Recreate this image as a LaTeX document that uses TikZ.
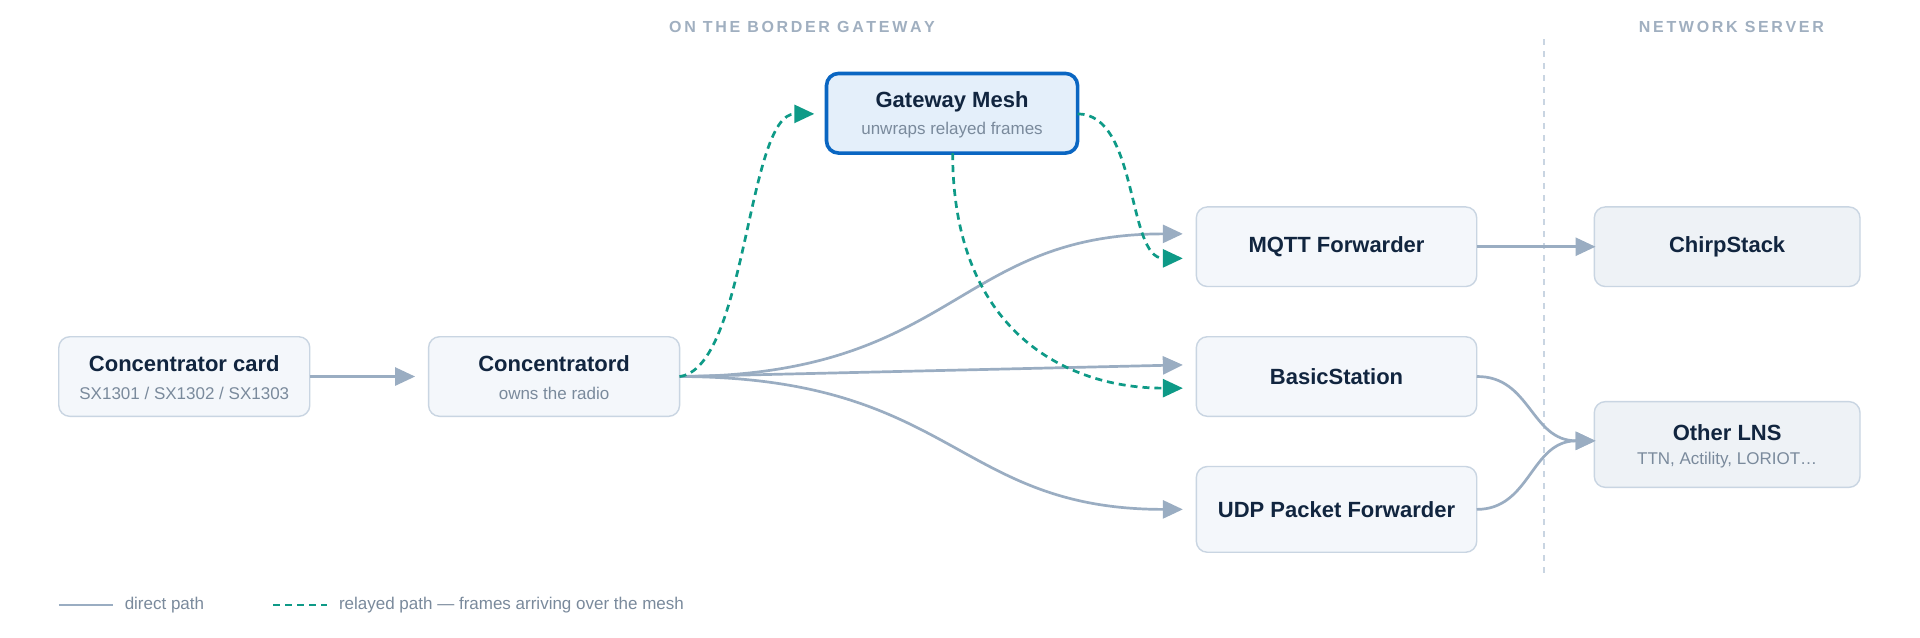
\documentclass[tikz,border=0pt]{standalone}
\usepackage{fontspec}
\setmainfont{Liberation Sans}
\usetikzlibrary{arrows.meta}
\definecolor{edge}{HTML}{9AADC2}
\definecolor{teal}{HTML}{0E9A87}
\definecolor{title}{HTML}{11253F}
\definecolor{sub}{HTML}{7A8A9C}
\definecolor{bord}{HTML}{C9D5E2}
\definecolor{boxf}{HTML}{F4F7FB}
\definecolor{lnsf}{HTML}{EEF2F6}
\definecolor{meshb}{HTML}{0A66C2}
\definecolor{meshf}{HTML}{E4EFFA}
\definecolor{hdr}{HTML}{A0AFC0}
\begin{document}
\begin{tikzpicture}[x=1.2245pt,y=-1.2245pt,
 box/.style={draw=bord,line width=1.4pt,fill=boxf,rounded corners=11pt,inner sep=0pt},
 ttl/.style={font=\fontsize{22}{26}\selectfont\bfseries,text=title},
 sbt/.style={font=\fontsize{17}{20}\selectfont,text=sub},
 dir/.style={draw=edge,line width=2.7pt,-{Triangle[length=20pt,width=18pt]}},
 rel/.style={draw=teal,line width=2.7pt,dash pattern=on 7pt off 5pt,-{Triangle[length=20pt,width=18pt]}},
 hd/.style={font=\fontsize{16}{19}\selectfont\bfseries,text=hdr}]
\useasboundingbox (0,0) rectangle (1568,521);
\fill[white] (0,0) rectangle (1568,521);
\node[hd] at (655,22) {O\,N\, T\,H\,E\, B\,O\,R\,D\,E\,R\, G\,A\,T\,E\,W\,A\,Y};
\node[hd] at (1414,22) {N\,E\,T\,W\,O\,R\,K\, S\,E\,R\,V\,E\,R};
\draw[bord,line width=1.8pt,dash pattern=on 6pt off 6pt] (1261,32) -- (1261,470);
% boxes
\draw[box] (48,275) rectangle (253,340); \node (card) at (150.5,307.5) {};
\node[ttl] at (150.5,297) {Concentrator card}; \node[sbt] at (150.5,321) {SX1301 / SX1302 / SX1303};
\draw[box] (350,275) rectangle (555,340); \node (cd) at (452.5,307.5) {};
\node[ttl] at (452.5,297) {Concentratord}; \node[sbt] at (452.5,321) {owns the radio};
\draw[draw=meshb,line width=3.6pt,fill=meshf,rounded corners=12pt] (675,60) rectangle (880,125); \node (mesh) at (777.5,92.5) {};
\node[ttl] at (777.5,83) {Gateway Mesh}; \node[sbt] at (777.5,106) {unwraps relayed frames};
\draw[box] (977,169) rectangle (1206,234); \node[ttl] (mqtt) at (1091.5,201.5) {MQTT Forwarder};
\draw[box] (977,275) rectangle (1206,340); \node[ttl] (bs) at (1091.5,307.5) {BasicStation};
\draw[box] (977,381) rectangle (1206,451); \node[ttl] (udp) at (1091.5,416) {UDP Packet Forwarder};
\draw[box,fill=lnsf] (1302,169) rectangle (1519,234); \node[ttl] (cs) at (1410.5,201.5) {ChirpStack};
\draw[box,fill=lnsf] (1302,328) rectangle (1519,398); \node (lns) at (1410.5,363) {};
\node[ttl] at (1410.5,353) {Other LNS}; \node[sbt] at (1410.5,376) {TTN, Actility, LORIOT…};
\coordinate (cdR) at (555,307.5);
% direct
\draw[dir] (253,307.5) -- (339,307.5);
\draw[dir] (cdR) .. controls (780,307) and (780,191) .. (966,191);
\draw[dir] (cdR) -- (966,298);
\draw[dir] (cdR) .. controls (780,308) and (780,416) .. (966,416);
\draw[dir] (1206,201.5) -- (1303,201.5);
\draw[dir] (1206,307.5) .. controls (1250,307) and (1250,360) .. (1303,360);
\draw[dir] (1206,416) .. controls (1250,416) and (1250,360) .. (1303,360);
% relayed
\draw[rel] (cdR) .. controls (610,300) and (610,93) .. (665,93);
\draw[rel] (778,125) .. controls (778,270) and (870,317) .. (966,317);
\draw[rel] (880,93) .. controls (930,93) and (920,211) .. (966,211);
% legend
\draw[edge,line width=2.7pt] (48,494) -- (92,494);
\node[sbt,anchor=west,text=sub] at (99,494) {direct path};
\draw[teal,line width=2.7pt,dash pattern=on 7pt off 5pt] (223,494) -- (267,494);
\node[sbt,anchor=west] at (274,494) {relayed path — frames arriving over the mesh};
\end{tikzpicture}
\end{document}
